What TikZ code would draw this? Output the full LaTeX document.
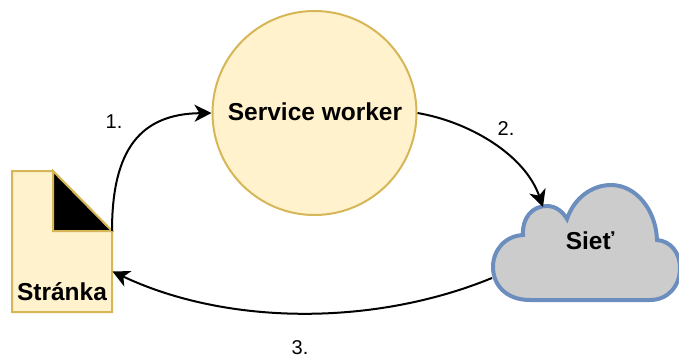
\documentclass[tikz,border=0pt]{standalone}
\usepackage{fontspec}
\setmainfont{Liberation Sans}
\usetikzlibrary{arrows.meta}
\definecolor{fillY}{HTML}{FFF2CC}
\definecolor{lineY}{HTML}{D6B656}
\definecolor{cloudF}{HTML}{CCCCCC}
\definecolor{cloudL}{HTML}{6C8EBF}
\tikzset{x=1pt,y=-1pt,
 lbl/.style={font=\fontsize{20}{24}\selectfont,inner sep=0pt},
 blbl/.style={font=\fontsize{24.5}{29}\selectfont\bfseries,inner sep=0pt},
 conn/.style={black,line width=2pt,-{Stealth[length=17pt,width=17pt,inset=5pt]}}}
\begin{document}
\begin{tikzpicture}
\useasboundingbox (0,0) rectangle (679,358);
\node[circle,draw=lineY,fill=fillY,line width=2pt,minimum size=204pt,inner sep=0pt] (sw) at (314.5,113) {};
\node[blbl] (swt) at (315,112) {Service worker};
\draw[draw=lineY,fill=fillY,line width=2pt] (12,171) -- (53,171) -- (112,231) -- (112,312) -- (12,312) -- cycle;
\draw[draw=lineY,fill=black,line width=2pt] (53,171) -- (112,231) -- (53,231) -- cycle;
\coordinate (pTop) at (112,231);
\coordinate (pIn) at (112.5,271.5);
\node[blbl] (pt) at (62,292) {Stránka};
\draw[draw=cloudL,fill=cloudF,line width=4pt] (530,300)
 .. controls (506,300) and (493,285) .. (493,267)
 .. controls (493,250) and (505,236) .. (523,235)
 .. controls (522,218) and (532,206) .. (547,206)
 .. controls (556,206) and (563,212) .. (567,219)
 .. controls (574,198) and (592,185) .. (611,185)
 .. controls (636,185) and (656,210) .. (657,240)
 .. controls (670,241) and (680,252) .. (680,268)
 .. controls (680,286) and (668,300) .. (650,300)
 -- cycle;
\coordinate (cTop) at (543,207);
\coordinate (cOut) at (492,278);
\node[blbl] (ct) at (590,241) {Sieť};
\draw[conn] (pTop) .. controls (112,150) and (140,114) .. (sw.west);
\draw[conn] (sw.east) .. controls (470,122) and (525,155) .. (cTop);
\draw[conn] (cOut) .. controls (375,326) and (228,326) .. (pIn);
\node[lbl] (l1) at (114,122) {1.};
\node[lbl] (l2) at (506,129) {2.};
\node[lbl] (l3) at (300,348) {3.};
\end{tikzpicture}
\end{document}
